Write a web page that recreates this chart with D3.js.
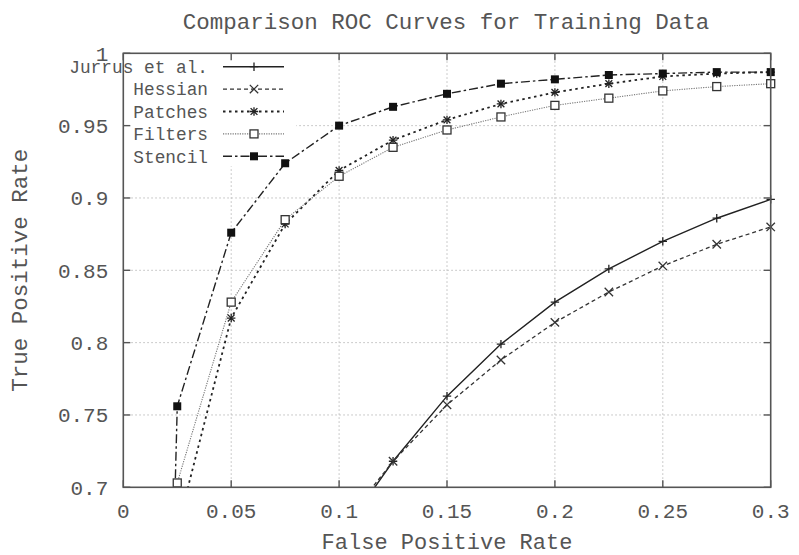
<!DOCTYPE html>
<html>
<head>
<meta charset="utf-8">
<script src="https://cdn.jsdelivr.net/npm/d3@7"></script>
<style>
  body { margin: 0; background: #fff; }
  text { font-family: "Liberation Mono", "DejaVu Sans Mono", monospace; fill: #555; }
</style>
</head>
<body>
<svg id="roc"></svg>
<script>
// false positive rate sampled for every curve
var fpr = [0.025, 0.05, 0.075, 0.1, 0.125, 0.15, 0.175, 0.2, 0.225, 0.25, 0.275, 0.3]

// true positive rate per method (null = not sampled)
var jurrus  = [null, null, null, 0.665, 0.718, 0.763, 0.799, 0.828, 0.851, 0.870, 0.886, 0.899]
var hessian = [null, null, null, 0.671, 0.718, 0.757, 0.788, 0.814, 0.835, 0.853, 0.868, 0.880]
var patches = [0.671, 0.817, 0.882, 0.919, 0.940, 0.954, 0.965, 0.973, 0.979, 0.984, 0.986, 0.987]
var filters = [0.703, 0.828, 0.885, 0.915, 0.935, 0.947, 0.956, 0.964, 0.969, 0.974, 0.977, 0.979]
var stencil = [0.756, 0.876, 0.924, 0.950, 0.963, 0.972, 0.979, 0.982, 0.985, 0.986, 0.987, 0.987]
// stencil keeps falling just left of the first sample (off the chart)
var stencilLow = {fpr: 0.0235, tpr: 0.67}

var xTicks = [0, 0.05, 0.1, 0.15, 0.2, 0.25, 0.3]
var yTicks = [0.7, 0.75, 0.8, 0.85, 0.9, 0.95, 1]
var names  = ["Jurrus et al.", "Hessian", "Patches", "Filters", "Stencil"]

var W = 799, H = 555
var margin = {top: 53.3, right: 28.3, bottom: 67.7, left: 123.3},
    width  = W - margin.left - margin.right,
    height = H - margin.top - margin.bottom;

var x = d3.scaleLinear().domain([0, 0.3]).range([0, width]);
var y = d3.scaleLinear().domain([0.7, 1]).range([height, 0]);

var svg = d3.select("#roc").attr("width", W).attr("height", H)
var g = svg.append("g").attr("transform", "translate(" + margin.left + "," + margin.top + ")");

// title
svg.append("text")
  .attr("x", 446).attr("y", 29)
  .attr("text-anchor", "middle")
  .style("font-size", "22.5px")
  .text("Comparison ROC Curves for Training Data");

// grid
g.append("g").selectAll("line").data(xTicks.slice(1, -1)).enter().append("line")
  .attr("x1", function(d) { return x(d); }).attr("x2", function(d) { return x(d); })
  .attr("y1", 0).attr("y2", height)
  .attr("stroke", "#bbb").attr("stroke-width", 1).attr("stroke-dasharray", "1.5,2.5");
g.append("g").selectAll("line").data(yTicks.slice(1, -1)).enter().append("line")
  .attr("y1", function(d) { return y(d); }).attr("y2", function(d) { return y(d); })
  .attr("x1", 0).attr("x2", width)
  .attr("stroke", "#bbb").attr("stroke-width", 1).attr("stroke-dasharray", "1.5,2.5");

// key area hides the grid
g.append("rect").attr("x", 0).attr("y", 0).attr("width", 173).attr("height", 113).attr("fill", "#fff");

var styles = [
  {dash: null,          color: "#222", width: 1.4, mark: "plus"},
  {dash: "4,3",         color: "#333", width: 1.3, mark: "cross"},
  {dash: "2.5,3.5",     color: "#222", width: 1.8, mark: "star"},
  {dash: "1.2,1.2",     color: "#777", width: 1.1, mark: "open"},
  {dash: "9,3,2.5,3",   color: "#222", width: 1.4, mark: "filled"}
]

var series = [jurrus, hessian, patches, filters, stencil].map(function(vals, i) {
  var pts = []
  vals.forEach(function(v, j) { if (v !== null) pts.push({fpr: fpr[j], tpr: v}); });
  if (i === 4) pts.unshift(stencilLow);
  return {name: names[i], pts: pts, style: styles[i]};
});

svg.append("defs").append("clipPath").attr("id", "plotclip")
  .append("rect").attr("width", width).attr("height", height);

var line = d3.line()
  .x(function(d) { return x(d.fpr); })
  .y(function(d) { return y(d.tpr); });

function marker(sel, kind, color) {
  var s = 4.2;
  if (kind === "plus" || kind === "star") {
    sel.append("path").attr("d", "M" + (-s) + ",0H" + s + "M0," + (-s) + "V" + s)
      .attr("stroke", color).attr("stroke-width", 1.3).attr("fill", "none");
  }
  if (kind === "cross" || kind === "star") {
    var c = kind === "star" ? 3.4 : 4.2;
    sel.append("path").attr("d", "M" + (-c) + "," + (-c) + "L" + c + "," + c + "M" + (-c) + "," + c + "L" + c + "," + (-c))
      .attr("stroke", color).attr("stroke-width", 1.3).attr("fill", "none");
  }
  if (kind === "open") {
    sel.append("rect").attr("x", -4).attr("y", -4).attr("width", 8).attr("height", 8)
      .attr("fill", "#fff").attr("stroke", "#333").attr("stroke-width", 1.3);
  }
  if (kind === "filled") {
    sel.append("rect").attr("x", -4).attr("y", -4).attr("width", 8).attr("height", 8)
      .attr("fill", "#111");
  }
}

var curves = g.append("g");
series.forEach(function(s) {
  curves.append("path")
    .datum(s.pts)
    .attr("clip-path", "url(#plotclip)")
    .attr("d", line)
    .attr("fill", "none")
    .attr("stroke", s.style.color)
    .attr("stroke-width", s.style.width)
    .attr("stroke-dasharray", s.style.dash);
});
series.forEach(function(s) {
  s.pts.filter(function(d) { return d.tpr >= 0.7 && d.fpr >= 0; }).forEach(function(d) {
    marker(curves.append("g").attr("transform", "translate(" + x(d.fpr) + "," + y(d.tpr) + ")"), s.style.mark, s.style.color);
  });
});

// frame + inward ticks on all four sides
g.append("rect").attr("width", width).attr("height", height)
  .attr("fill", "none").attr("stroke", "#555").attr("stroke-width", 1.6);
var tk = 7;
xTicks.forEach(function(d) {
  g.append("line").attr("x1", x(d)).attr("x2", x(d)).attr("y1", height).attr("y2", height - tk).attr("stroke", "#555").attr("stroke-width", 1.4);
  g.append("line").attr("x1", x(d)).attr("x2", x(d)).attr("y1", 0).attr("y2", tk).attr("stroke", "#555").attr("stroke-width", 1.4);
  g.append("text").attr("x", x(d)).attr("y", height + 31)
    .attr("text-anchor", "middle").style("font-size", "21px").text(d);
});
yTicks.forEach(function(d) {
  g.append("line").attr("y1", y(d)).attr("y2", y(d)).attr("x1", 0).attr("x2", tk).attr("stroke", "#555").attr("stroke-width", 1.4);
  g.append("line").attr("y1", y(d)).attr("y2", y(d)).attr("x1", width).attr("x2", width - tk).attr("stroke", "#555").attr("stroke-width", 1.4);
  g.append("text").attr("x", -15).attr("y", y(d)).attr("dy", "0.35em")
    .attr("text-anchor", "end").style("font-size", "21px").text(d);
});

// axis labels
svg.append("text")
  .attr("x", margin.left + width / 2).attr("y", 549)
  .attr("text-anchor", "middle").style("font-size", "22px")
  .text("False Positive Rate");
svg.append("text")
  .attr("transform", "translate(27," + (margin.top + height / 2) + ") rotate(-90)")
  .attr("text-anchor", "middle").style("font-size", "22.5px")
  .text("True Positive Rate");

// key
var key = svg.append("g");
series.forEach(function(s, i) {
  var ky = 66.7 + i * 22.4;
  key.append("text").attr("x", 208).attr("y", ky).attr("dy", "0.35em")
    .attr("text-anchor", "end").style("font-size", "17.8px").text(s.name);
  key.append("line").attr("x1", 223).attr("x2", 284).attr("y1", ky).attr("y2", ky)
    .attr("stroke", s.style.color).attr("stroke-width", s.style.width).attr("stroke-dasharray", s.style.dash);
  marker(key.append("g").attr("transform", "translate(254," + ky + ")"), s.style.mark, s.style.color);
});
</script>
</body>
</html>
